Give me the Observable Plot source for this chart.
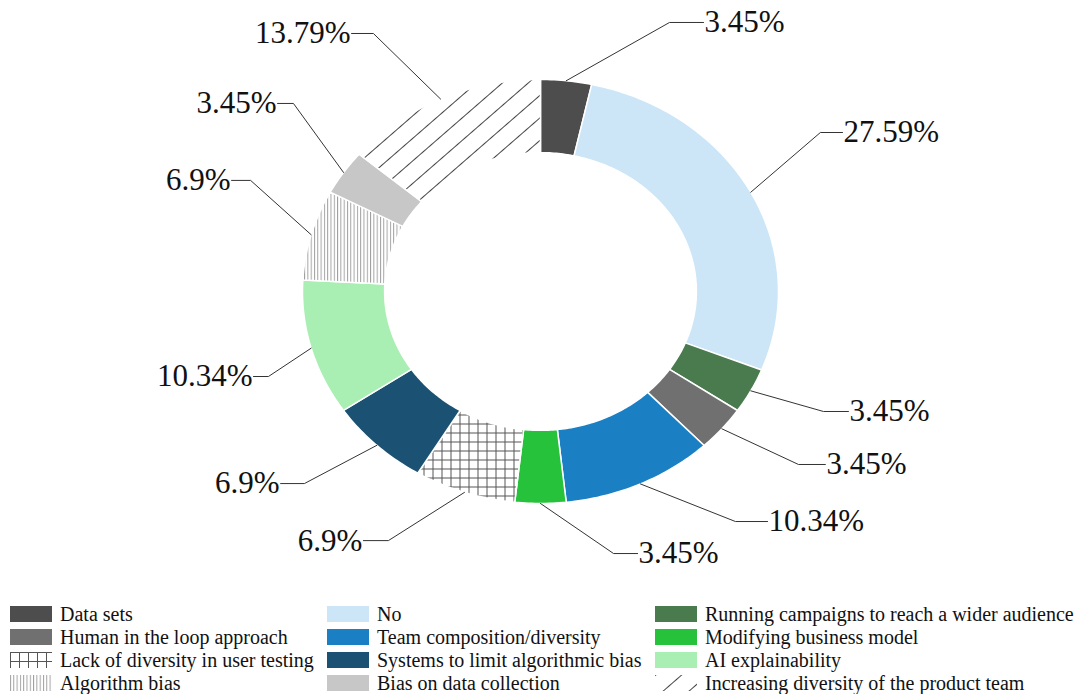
<!DOCTYPE html>
<html>
<head>
<meta charset="utf-8">
<script src="https://cdn.jsdelivr.net/npm/d3@7"></script>
<script src="https://cdn.jsdelivr.net/npm/@observablehq/plot@0.6"></script>
<style>
  body { margin: 0; background: #fff; }
  #wrap { position: relative; width: 1087px; height: 694px; font-family: "Liberation Serif", "Times New Roman", serif; }
  #chart svg { display: block; }
  .item { position: absolute; display: flex; align-items: center; font-size: 20px; color: #111; white-space: nowrap; height: 23px; }
  .item svg { margin-right: 8px; display: block; }
</style>
</head>
<body>
<div id="wrap"><div id="chart"></div></div>
<script>
// ---- data ----
const categories = [
  "Data sets",
  "No",
  "Running campaigns to reach a wider audience",
  "Human in the loop approach",
  "Team composition/diversity",
  "Modifying business model",
  "Lack of diversity in user testing",
  "Systems to limit algorithmic bias",
  "AI explainability",
  "Algorithm bias",
  "Bias on data collection",
  "Increasing diversity of the product team"
];
const shares = [3.45, 27.59, 3.45, 3.45, 10.34, 3.45, 6.9, 6.9, 10.34, 6.9, 3.45, 13.79];
const shareLabels = ["3.45%", "27.59%", "3.45%", "3.45%", "10.34%", "3.45%", "6.9%", "6.9%", "10.34%", "6.9%", "3.45%", "13.79%"];
const fills = [
  "#4d4d4d", "#cce6f8", "#4a7b4f", "#707070", "#1b80c3", "#27c23b",
  "url(#p-cross)", "#1b5274", "#a9eeb2", "url(#p-vert)", "#c7c7c7", "url(#p-diag)"
];

// ---- label layout (in the chart's unit space) ----
const leaderElbows = [
  [0.542, 1.269], [1.176, 0.750], [1.189, -0.566], [1.084, -0.816],
  [0.819, -1.085], [0.307, -1.236], [-0.639, -1.175], [-0.992, -0.906],
  [-1.143, -0.401], [-1.218, 0.524], [-1.038, 0.887], [-0.702, 1.217]
];
const leaderEndsX = [0.685, 1.269, 1.294, 1.197, 0.954, 0.408, -0.744, -1.092, -1.206, -1.298, -1.105, -0.794];

const innerRatio = 0.655;
const total = d3.sum(shares);
const serif = "'Liberation Serif', 'Times New Roman', serif";

// ---- build ring polygons ----
const ring = [];
const leaders = [];
const labelRows = [];
let acc = 0;
shares.forEach((v, i) => {
  const a0 = acc / total * 2 * Math.PI;
  acc += v;
  const a1 = acc / total * 2 * Math.PI;
  const n = Math.max(4, Math.ceil((a1 - a0) / 0.015));
  const pts = [];
  for (let k = 0; k <= n; k++) { const a = a0 + (a1 - a0) * k / n; pts.push([Math.sin(a), Math.cos(a)]); }
  for (let k = n; k >= 0; k--) { const a = a0 + (a1 - a0) * k / n; pts.push([innerRatio * Math.sin(a), innerRatio * Math.cos(a)]); }
  pts.push(pts[0]);
  pts.forEach(([x, y]) => ring.push({cat: categories[i], x, y}));
  const am = (a0 + a1) / 2;
  const [ex, ey] = leaderElbows[i];
  leaders.push({i, x: Math.sin(am), y: Math.cos(am)});
  leaders.push({i, x: ex, y: ey});
  leaders.push({i, x: leaderEndsX[i], y: ey});
  labelRows.push({i, x: leaderEndsX[i], y: ey, label: shareLabels[i], right: leaderEndsX[i] > ex});
});

const svg = Plot.plot({
  width: 1087,
  height: 600,
  margin: 0,
  style: {fontFamily: serif, background: "white"},
  x: {domain: [-540 / 238, 547 / 238], axis: null},
  y: {domain: [(291 - 600) / 212, 291 / 212], axis: null},
  color: {domain: categories, range: fills, type: "ordinal"},
  marks: [
    Plot.line(ring, {x: "x", y: "y", z: "cat", fill: "cat", stroke: "white", strokeWidth: 1.5, curve: "linear"}),
    Plot.line(leaders, {x: "x", y: "y", z: "i", stroke: "#333", strokeWidth: 1, curve: "linear"}),
    Plot.text(labelRows.filter(d => d.right), {x: "x", y: "y", text: "label", textAnchor: "start", dx: 1, fontSize: 31, fontFamily: serif, fill: "#111"}),
    Plot.text(labelRows.filter(d => !d.right), {x: "x", y: "y", text: "label", textAnchor: "end", dx: -1, fontSize: 31, fontFamily: serif, fill: "#111"})
  ]
});

// patterns
const defs = d3.select(svg).insert("defs", ":first-child");
const pc = defs.append("pattern").attr("id", "p-cross").attr("patternUnits", "userSpaceOnUse").attr("width", 9).attr("height", 9);
pc.append("rect").attr("width", 9).attr("height", 9).attr("fill", "white");
pc.append("path").attr("d", "M0 0.5H9M0.5 0V9").attr("stroke", "#555").attr("stroke-width", 1).attr("fill", "none");
const pv = defs.append("pattern").attr("id", "p-vert").attr("patternUnits", "userSpaceOnUse").attr("width", 3.3).attr("height", 4);
pv.append("rect").attr("width", 3.3).attr("height", 4).attr("fill", "white");
pv.append("line").attr("x1", 0.5).attr("x2", 0.5).attr("y1", 0).attr("y2", 4).attr("stroke", "#999").attr("stroke-width", 0.9);
const pd = defs.append("pattern").attr("id", "p-diag").attr("patternUnits", "userSpaceOnUse").attr("width", 17).attr("height", 17).attr("patternTransform", "rotate(49)");
pd.append("rect").attr("width", 17).attr("height", 17).attr("fill", "white");
pd.append("line").attr("x1", 0.5).attr("x2", 0.5).attr("y1", 0).attr("y2", 17).attr("stroke", "#444").attr("stroke-width", 1);

document.getElementById("chart").appendChild(svg);

// legend (3 columns, row-major in data order)
const wrap = document.getElementById("wrap");
const colX = [10, 327, 655];
const rowY = [614, 637, 660, 683];
categories.forEach((c, i) => {
  const col = i % 3, row = Math.floor(i / 3);
  const item = document.createElement("div");
  item.className = "item";
  item.style.left = colX[col] + "px";
  item.style.top = (rowY[row] - 11.5) + "px";
  const sw = d3.create("svg").attr("width", 42).attr("height", 16);
  sw.append("rect").attr("width", 42).attr("height", 16).attr("fill", fills[i]);
  item.appendChild(sw.node());
  const t = document.createElement("span");
  t.textContent = c;
  item.appendChild(t);
  wrap.appendChild(item);
});
</script>
</body>
</html>
